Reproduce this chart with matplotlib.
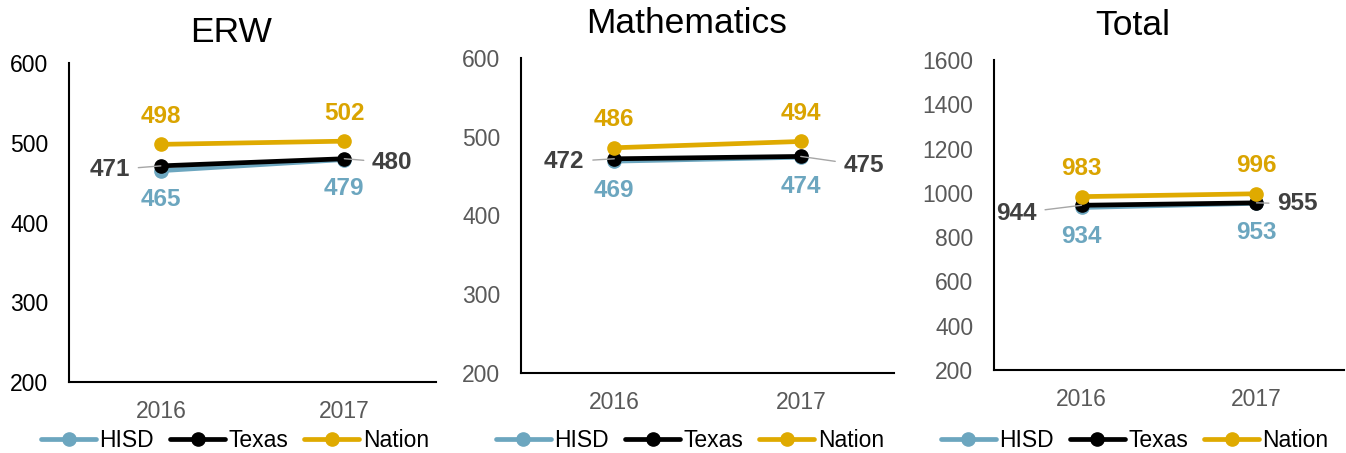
import matplotlib
matplotlib.use("Agg")
import matplotlib.pyplot as plt

plt.rcParams['font.family'] = ['Liberation Sans', 'DejaVu Sans']

years = ["2016", "2017"]
series_names = ["HISD", "Texas", "Nation"]
panel_titles = ["ERW", "Mathematics", "Total"]

erw_hisd = [465, 479]
erw_texas = [471, 480]
erw_nation = [498, 502]

math_hisd = [469, 474]
math_texas = [472, 475]
math_nation = [486, 494]

total_hisd = [934, 953]
total_texas = [944, 955]
total_nation = [983, 996]

erw_ticks = [200, 300, 400, 500, 600]
math_ticks = [200, 300, 400, 500, 600]
total_ticks = [200, 400, 600, 800, 1000, 1200, 1400, 1600]

line_colors = {"HISD": "#6CA6BF", "Texas": "#000000", "Nation": "#DFAA00"}
label_colors = {"HISD": "#6CA6BF", "Texas": "#404040", "Nation": "#DAA400"}

panels = [
    dict(title=panel_titles[0], data={"HISD": erw_hisd, "Texas": erw_texas, "Nation": erw_nation},
         ticks=erw_ticks, pos=[0.0513, 0.1567, 0.2727, 0.7042], ytick_color="#000000",
         leg_x=0.1746, title_x=0.441, title_pad=15,
         texas_off=[(-51, -4), (48, -4)]),
    dict(title=panel_titles[1], data={"HISD": math_hisd, "Texas": math_texas, "Nation": math_nation},
         ticks=math_ticks, pos=[0.3871, 0.1766, 0.2771, 0.6954], ytick_color="#595959",
         leg_x=0.5126, title_x=0.445, title_pad=18,
         texas_off=[(-50, -3), (63, -9)]),
    dict(title=panel_titles[2], data={"HISD": total_hisd, "Texas": total_texas, "Nation": total_nation},
         ticks=total_ticks, pos=[0.7385, 0.1832, 0.2600, 0.6843], ytick_color="#595959",
         leg_x=0.843, title_x=0.397, title_pad=18,
         texas_off=[(-65, -8), (41, -1)]),
]

fig = plt.figure(figsize=(13.46, 4.53), dpi=100)

x = list(range(len(years)))
for p in panels:
    ax = fig.add_axes(p["pos"])
    handles = []
    for name in series_names:
        vals = p["data"][name]
        h, = ax.plot(x, vals, color=line_colors[name], lw=3.4, marker='o', ms=9.5,
                     solid_capstyle='round', label=name, zorder=3)
        handles.append(h)
    # data labels
    for i, xi in enumerate(x):
        v = p["data"]["Nation"][i]
        ax.annotate(str(v), (xi, v), xytext=(0, 28), textcoords='offset pixels',
                    ha='center', va='center', fontsize=17.5, fontweight='bold',
                    color=label_colors["Nation"])
        v = p["data"]["HISD"][i]
        ax.annotate(str(v), (xi, v), xytext=(0, -29), textcoords='offset pixels',
                    ha='center', va='center', fontsize=17.5, fontweight='bold',
                    color=label_colors["HISD"])
        v = p["data"]["Texas"][i]
        dx, dy = p["texas_off"][i]
        ax.annotate(str(v), (xi, v), xytext=(dx, dy), textcoords='offset pixels',
                    ha='center', va='center', fontsize=17.5, fontweight='bold',
                    color=label_colors["Texas"],
                    arrowprops=dict(arrowstyle='-', color='#A6A6A6', lw=1,
                                    shrinkA=4, shrinkB=0))
    ax.set_xlim(-0.5, 1.5)
    ax.set_ylim(p["ticks"][0], p["ticks"][-1])
    ax.set_yticks(p["ticks"])
    ax.set_xticks(x)
    ax.set_xticklabels(years)
    ax.tick_params(axis='both', length=0, labelsize=16.5)
    ax.tick_params(axis='y', colors=p["ytick_color"], pad=15)
    ax.tick_params(axis='x', colors="#595959", pad=13)
    for s in ["top", "right"]:
        ax.spines[s].set_visible(False)
    for s in ["left", "bottom"]:
        ax.spines[s].set_linewidth(1.5)
        ax.spines[s].set_color("#000000")
    ax.set_title(p["title"], fontsize=25.5, pad=p["title_pad"], x=p["title_x"])
    fig.legend(handles=handles, labels=series_names, loc='center',
               bbox_to_anchor=(p["leg_x"], 0.027), ncol=3, frameon=False,
               fontsize=16.5, handlelength=2.4, handletextpad=0.15,
               columnspacing=0.7, markerscale=1.0)

fig.savefig("out.png", dpi=100)
